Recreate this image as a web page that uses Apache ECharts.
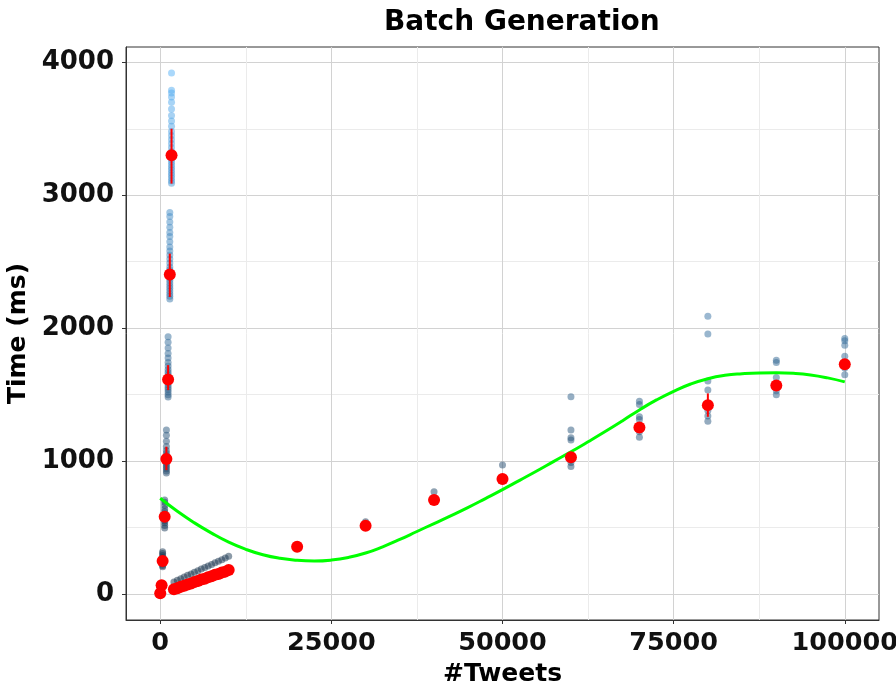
<!DOCTYPE html>
<html>
<head>
<meta charset="utf-8">
<script src="https://cdn.jsdelivr.net/npm/echarts@6/dist/echarts.min.js"></script>
<style>
  html, body { margin: 0; padding: 0; background: #ffffff; }
  #chart { width: 896px; height: 688px; }
</style>
</head>
<body>
<div id="chart"></div>
<script>
// Batch sizes (number of tweets per batch)
const batchSizes = [
  0, 200, 350, 650, 900, 1150, 1400, 1650,
  2000, 2500, 3000, 3500, 4000, 4500, 5000, 5500, 6000, 6500, 7000, 7500, 8000, 8500, 9000, 9500, 10000,
  20000, 30000, 40000, 50000, 60000, 70000, 80000, 90000, 100000
];

// Individual run times (ms) for each batch size
const runTimes = [
  [2, 4, 6, 9],
  [52, 60, 66, 74],
  [205, 215, 228, 236, 242, 248, 254, 262, 275, 290, 305, 318],
  [496, 515, 535, 550, 562, 572, 580, 590, 602, 618, 640, 665, 690, 707],
  [910, 925, 942, 958, 972, 988, 1000, 1012, 1025, 1040, 1058, 1080, 1110, 1150, 1195, 1233],
  [1483, 1500, 1520, 1538, 1556, 1575, 1592, 1610, 1628, 1648, 1668, 1690, 1715, 1742, 1775, 1810, 1850, 1895, 1935],
  [2220, 2240, 2260, 2280, 2300, 2320, 2340, 2360, 2380, 2400, 2420, 2440, 2460, 2490, 2520, 2550, 2580, 2610, 2650, 2690, 2720, 2760, 2800, 2840, 2870],
  [3090, 3110, 3130, 3150, 3170, 3190, 3210, 3230, 3250, 3270, 3290, 3310, 3330, 3360, 3390, 3420, 3450, 3480, 3520, 3560, 3600, 3650, 3700, 3740, 3770, 3790, 3920],
  [30, 38, 90],
  [40, 46, 103],
  [48, 55, 115],
  [57, 64, 127],
  [66, 73, 140],
  [74, 82, 150],
  [83, 91, 163],
  [92, 100, 175],
  [100, 109, 187],
  [110, 118, 200],
  [118, 127, 210],
  [128, 136, 222],
  [136, 145, 235],
  [145, 154, 247],
  [154, 163, 258],
  [162, 172, 270],
  [172, 181, 283],
  [345, 356, 368],
  [505, 514, 525, 544],
  [700, 707, 715, 769],
  [850, 860, 870, 970],
  [960, 990, 1010, 1030, 1158, 1175, 1233, 1484],
  [1180, 1220, 1240, 1313, 1333, 1426, 1451],
  [1300, 1340, 1380, 1410, 1534, 1602, 1957, 2090],
  [1500, 1530, 1560, 1629, 1742, 1759],
  [1650, 1700, 1789, 1872, 1905, 1923]
];

// Mean time per batch size and its error-bar limits
const meanTimes = [
  5, 65, 248, 581, 1015, 1614, 2404, 3301,
  35, 43, 54, 61, 72, 79, 90, 97, 108, 115, 126, 133, 144, 151, 162, 168, 180,
  356, 514, 707, 865, 1028, 1253, 1421, 1569, 1729
];
const errLow = [
  5, 60, 240, 560, 932, 1534, 2235, 3088,
  32, 40, 51, 58, 69, 76, 87, 94, 105, 112, 123, 130, 141, 148, 159, 165, 177,
  352, 508, 700, 855, 1005, 1235, 1333, 1555, 1710
];
const errHigh = [
  5, 70, 256, 602, 1108, 1722, 2561, 3501,
  38, 46, 57, 64, 75, 82, 93, 100, 111, 118, 129, 136, 147, 154, 165, 171, 183,
  360, 520, 714, 875, 1050, 1270, 1509, 1583, 1748
];

// Smoothed trend (ms) over the tweet range
const trendX = [0, 2500, 5000, 7500, 10000, 12500, 15000, 17500, 20000, 22500, 25000, 27500,
  30000, 32500, 35000, 37500, 40000, 42500, 45000, 47500, 50000, 52500, 55000, 57500,
  60000, 62500, 65000, 67500, 70000, 72500, 75000, 77500, 80000, 82500, 85000, 87500,
  90000, 92500, 95000, 97500, 100000];
const trendY = [720, 622, 535, 458, 390, 336, 295, 268, 253, 248, 255, 275,
  308, 355, 410, 470, 530, 590, 652, 718, 785, 855, 925, 998,
  1070, 1145, 1222, 1302, 1385, 1460, 1525, 1580, 1620, 1645, 1657, 1663,
  1664, 1660, 1648, 1626, 1596];

// Axis ticks
const xTicks = [0, 25000, 50000, 75000, 100000];
const xMinorTicks = [12500, 37500, 62500, 87500];
const yTicks = [0, 1000, 2000, 3000, 4000];
const yMinorTicks = [500, 1500, 2500, 3500];

const rawPoints = [];
batchSizes.forEach((b, i) => runTimes[i].forEach(t => rawPoints.push([b, t])));
const meanPoints = batchSizes.map((b, i) => [b, meanTimes[i]]);
const errBars = batchSizes.map((b, i) => [b, errLow[i], errHigh[i]]);
const trendPoints = trendX.map((x, i) => [x, trendY[i]]);

const FONT = 'DejaVu Sans';
const X_RANGE = [-5000, 105000];
const Y_RANGE = [-196, 4116];
const plain = v => String(v);

const chart = echarts.init(document.getElementById('chart'), null, { renderer: 'canvas' });

chart.setOption({
  animation: false,
  backgroundColor: '#ffffff',
  textStyle: { fontFamily: FONT },
  graphic: [{
    type: 'text',
    left: 524 - 140,
    top: 9,
    style: {
      text: 'Batch Generation',
      fontFamily: FONT,
      fontWeight: 'bold',
      fontSize: 28,
      fill: '#000000',
      width: 280,
      align: 'center'
    }
  }],
  grid: {
    left: 126, right: 17, top: 47, bottom: 68,
    outerBoundsMode: 'none',
    containLabel: false,
    show: true, borderColor: '#333333', borderWidth: 1, backgroundColor: 'transparent'
  },
  visualMap: {
    show: false,
    type: 'continuous',
    seriesIndex: 0,
    dimension: 1,
    min: 0,
    max: 3920,
    inRange: { color: ['#132B43', '#56B1F7'] }
  },
  xAxis: [{
    type: 'value',
    min: X_RANGE[0], max: X_RANGE[1],
    name: '#Tweets',
    nameLocation: 'middle',
    nameGap: 42,
    nameTextStyle: { fontFamily: FONT, fontWeight: 'bold', fontSize: 25, color: '#000' },
    axisLine: { show: true, onZero: false, lineStyle: { color: '#333333', width: 1 } },
    axisTick: { show: true, inside: false, length: 4, customValues: xTicks, lineStyle: { color: '#333333' } },
    axisLabel: { customValues: xTicks, formatter: plain, margin: 10, fontFamily: FONT, fontWeight: 'bold', fontSize: 25.5, color: '#111' },
    splitLine: { show: true, lineStyle: { color: '#d2d2d2', width: 1 } }
  }, {
    type: 'value',
    min: X_RANGE[0], max: X_RANGE[1],
    position: 'bottom',
    axisLine: { show: false },
    axisTick: { show: false, customValues: xMinorTicks },
    axisLabel: { show: false, customValues: xMinorTicks },
    splitLine: { show: true, lineStyle: { color: '#ebebeb', width: 1 } }
  }],
  yAxis: [{
    type: 'value',
    min: Y_RANGE[0], max: Y_RANGE[1],
    name: 'Time (ms)',
    nameLocation: 'middle',
    nameGap: 86,
    nameTextStyle: { fontFamily: FONT, fontWeight: 'bold', fontSize: 25, color: '#000' },
    axisLine: { show: true, onZero: false, lineStyle: { color: '#333333', width: 1 } },
    axisTick: { show: true, inside: false, length: 4, customValues: yTicks, lineStyle: { color: '#333333' } },
    axisLabel: { customValues: yTicks, formatter: plain, margin: 12, fontFamily: FONT, fontWeight: 'bold', fontSize: 26, color: '#111' },
    splitLine: { show: true, lineStyle: { color: '#d2d2d2', width: 1 } }
  }, {
    type: 'value',
    min: Y_RANGE[0], max: Y_RANGE[1],
    position: 'left',
    axisLine: { show: false },
    axisTick: { show: false, customValues: yMinorTicks },
    axisLabel: { show: false, customValues: yMinorTicks },
    splitLine: { show: true, lineStyle: { color: '#ebebeb', width: 1 } }
  }],
  series: [{
    name: 'runs',
    type: 'scatter',
    xAxisIndex: 0, yAxisIndex: 0,
    data: rawPoints,
    symbolSize: 7,
    itemStyle: { opacity: 0.5 },
    z: 2
  }, {
    name: 'trend',
    type: 'line',
    xAxisIndex: 0, yAxisIndex: 0,
    data: trendPoints,
    smooth: true,
    showSymbol: false,
    lineStyle: { color: '#00ff00', width: 3 },
    z: 3
  }, {
    name: 'error',
    type: 'custom',
    xAxisIndex: 0, yAxisIndex: 0,
    data: errBars,
    renderItem: function (params, api) {
      const a = api.coord([api.value(0), api.value(1)]);
      const b = api.coord([api.value(0), api.value(2)]);
      return {
        type: 'line',
        shape: { x1: a[0], y1: a[1], x2: b[0], y2: b[1] },
        style: { stroke: '#ff0000', lineWidth: 2 }
      };
    },
    z: 4
  }, {
    name: 'mean',
    type: 'scatter',
    xAxisIndex: 0, yAxisIndex: 0,
    data: meanPoints,
    symbolSize: 12,
    itemStyle: { color: '#ff0000', opacity: 1 },
    z: 5
  }]
});
</script>
</body>
</html>
